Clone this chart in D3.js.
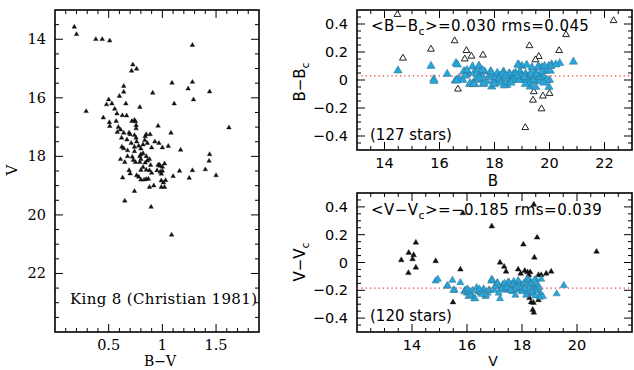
<!DOCTYPE html>
<html>
<head>
<meta charset="utf-8">
<script src="https://cdn.jsdelivr.net/npm/d3@7"></script>
<style>
  body { margin: 0; background: #fff; }
  svg { display: block; }
  .serif { font-family: "DejaVu Serif", "Liberation Serif", serif; }
  .sans { font-family: "DejaVu Sans", "Liberation Sans", sans-serif; }
</style>
</head>
<body>
<svg id="fig" width="634" height="370"></svg>
<script>
// colour-magnitude diagram: [B-V, V]
const cmdStars = [
  [0.18,13.58],[0.20,13.83],[0.38,14.0],[0.44,14.0],[0.51,14.05],[1.28,14.2],
  [0.725,14.87],[0.713,15.08],[0.76,15.01],[1.09,15.49],[1.28,15.46],[1.24,15.69],
  [1.44,15.79],[1.29,16.06],[1.11,16.2],[0.91,15.83],[0.64,15.6],[0.64,15.8],
  [0.60,15.94],[0.29,16.46],[0.50,16.06],[0.48,16.23],[0.53,16.2],[0.556,16.38],
  [0.66,16.2],[0.79,16.32],[0.45,16.68],[0.506,16.84],[0.51,16.97],[0.577,16.54],
  [0.57,16.8],[0.627,16.6],[0.667,16.61],[0.716,16.8],[0.75,16.81],[0.74,16.76],
  [0.756,16.94],[0.756,17.05],[0.59,17.0],[0.61,17.09],[0.58,17.17],[0.64,17.2],
  [0.62,17.37],[0.69,17.2],[0.70,17.25],[0.67,17.43],[0.74,17.28],[0.755,17.37],
  [0.71,17.55],[0.96,16.96],[1.08,17.2],[1.62,17.02],[0.85,17.25],[0.84,17.32],
  [0.886,17.25],[0.836,17.45],[0.86,17.55],[0.93,17.5],[0.968,17.55],[0.82,17.6],
  [0.74,17.68],[0.76,17.5],[0.623,17.68],[0.64,17.73],[0.676,17.8],[0.74,17.83],
  [0.78,17.64],[0.80,17.74],[0.90,17.7],[1.0,17.7],[1.055,17.65],[1.17,17.78],
  [0.61,18.1],[0.675,18.0],[0.65,18.2],[0.72,18.02],[0.73,18.13],[0.75,18.2],
  [0.80,17.93],[0.82,17.9],[0.79,18.0],[0.85,18.0],[0.80,18.1],[0.79,18.2],
  [0.84,18.22],[0.86,18.15],[0.88,18.1],[0.89,18.3],[0.82,18.37],[0.80,18.47],
  [0.85,18.46],[0.88,18.48],[0.90,18.57],[0.96,18.3],[0.97,18.28],[0.98,18.33],
  [1.0,18.36],[1.02,18.25],[0.95,18.48],[0.98,18.53],[1.0,18.5],[0.99,18.6],
  [0.69,18.48],[0.70,18.59],[0.63,18.73],[0.76,18.65],[0.78,18.7],[0.80,18.8],
  [0.83,18.8],[0.85,18.78],[0.87,18.77],[0.88,19.05],[0.92,19.0],[0.99,19.05],
  [0.99,18.83],[1.01,18.9],[1.03,18.82],[1.02,19.05],[1.10,18.68],[1.16,18.5],
  [1.25,18.74],[1.28,18.48],[1.40,18.45],[1.44,17.93],[1.435,18.16],[1.50,18.65],
  [0.74,19.19],[0.65,19.52],[0.895,19.73],[1.086,20.68]
];

// B residuals: [B, B-Bc]
const bKept = [
  [14.49,0.067],[15.69,0.10],[15.79,0.005],[15.80,-0.008],[16.28,0.043],[16.6,0.12],
  [16.65,0.11],[16.57,-0.005],[16.7,0.01],[16.92,0.06],[16.98,0.04],[17.04,0.05],
  [17.2,0.096],[17.22,-0.024],[17.28,0.06],[17.36,0.02],[17.44,0.096],[17.46,0.06],
  [17.5,0.0],[17.55,0.03],[17.58,-0.03],[17.64,0.06],[17.72,-0.01],[17.8,0.02],
  [17.86,0.06],[17.9,-0.048],[17.92,0.04],[17.98,0.0],[18.05,0.02],[18.1,0.05],
  [18.15,0.0],[18.2,0.03],[18.27,0.01],[18.33,0.06],[18.45,-0.036],[18.47,0.02],
  [18.53,0.045],[18.6,0.0],[18.65,0.03],[18.7,0.045],[18.76,0.01],[18.88,0.108],
  [18.93,0.06],[18.98,0.03],[19.0,0.1],[19.07,0.0],[19.13,0.045],[19.17,0.108],
  [19.2,0.02],[19.24,0.0],[19.3,-0.048],[19.3,0.045],[19.36,0.09],[19.4,0.01],
  [19.43,-0.01],[19.49,0.06],[19.55,0.02],[19.61,0.096],[19.65,-0.01],[19.7,0.045],
  [19.72,0.09],[19.78,0.02],[19.85,0.065],[19.97,0.1],[20.0,0.0],[20.03,0.065],
  [20.08,0.11],[20.37,0.12],[20.87,0.13],[16.85,0.0],[17.1,-0.03],[17.28,-0.03],
  [16.63,-0.005],[16.88,0.06],[16.94,0.03],[17.0,0.07],[17.12,-0.024],[17.25,-0.03],
  [17.34,0.045],[17.43,0.1],[17.45,0.01],[17.56,0.07],[17.62,-0.025],[17.87,0.06],
  [18.17,0.01],[18.3,0.045],[18.35,-0.04],[18.42,0.01],[18.55,0.045],[18.67,0.0],
  [18.77,0.05],[18.85,0.11],[18.9,0.0],[19.08,0.02],[19.27,-0.02],[19.33,0.045],
  [19.42,0.0],[19.5,-0.05],[19.57,0.09],[19.63,0.02],[19.73,0.06],[19.82,0.1],
  [19.9,0.0],[19.98,-0.05],[20.05,0.1],[20.23,0.11],[18.0,-0.03],[18.22,-0.02],
  [18.4,0.03],[18.6,-0.02],[18.82,0.03],[19.12,-0.03],[19.52,0.04],[19.8,-0.02]
];
const bRejected = [
  [14.47,0.468],[14.67,0.156],[15.69,0.22],[16.55,0.28],[16.98,0.21],[16.92,0.15],
  [17.16,0.17],[17.58,0.178],[16.67,-0.065],[19.27,0.245],[19.61,0.168],[19.49,0.144],
  [19.12,-0.34],[19.43,-0.084],[19.40,-0.144],[19.76,-0.115],[19.71,-0.206],[20.0,-0.096],
  [20.35,0.21],[20.6,0.324],[22.33,0.424]
];
const bMean = 0.030;

// V residuals: [V, V-Vc]
const vKept = [
  [14.86,-0.133],[14.94,-0.12],[15.27,-0.17],[15.47,-0.128],[15.55,-0.2],[15.76,-0.145],
  [15.93,-0.2],[16.0,-0.22],[16.05,-0.245],[16.1,-0.21],[16.17,-0.235],[16.26,-0.26],
  [16.35,-0.18],[16.4,-0.21],[16.5,-0.22],[16.63,-0.2],[16.67,-0.245],[16.75,-0.22],
  [16.82,-0.2],[16.88,-0.133],[16.9,-0.12],[17.0,-0.2],[17.05,-0.17],[17.1,-0.145],
  [17.2,-0.26],[17.25,-0.18],[17.3,-0.16],[17.35,-0.2],[17.4,-0.17],[17.48,-0.145],
  [17.53,-0.19],[17.6,-0.16],[17.65,-0.21],[17.7,-0.135],[17.77,-0.17],[17.83,-0.2],
  [17.9,-0.145],[17.95,-0.18],[18.0,-0.16],[18.07,-0.2],[18.13,-0.135],[18.2,-0.22],
  [18.25,-0.17],[18.3,-0.135],[18.38,-0.19],[18.43,-0.16],[18.5,-0.12],[18.52,-0.2],
  [18.57,-0.17],[18.67,-0.22],[18.76,-0.245],[19.26,-0.225],[19.52,-0.165],
  [15.3,-0.167],[15.5,-0.2],[15.9,-0.21],[15.95,-0.2],[16.07,-0.21],[16.12,-0.235],
  [16.3,-0.26],[16.48,-0.21],[16.6,-0.19],[16.69,-0.235],[16.79,-0.2],[16.93,-0.13],
  [17.02,-0.17],[17.12,-0.15],[17.26,-0.19],[17.36,-0.15],[17.44,-0.18],[17.52,-0.14],
  [17.62,-0.2],[17.68,-0.16],[17.76,-0.235],[17.86,-0.13],[17.92,-0.175],[18.0,-0.21],
  [18.07,-0.15],[18.15,-0.235],[18.21,-0.12],[18.27,-0.18],[18.33,-0.15],[18.4,-0.225],
  [18.45,-0.127],[18.52,-0.2],[18.57,-0.16],[18.64,-0.25],[18.7,-0.12],[16.02,-0.19],
  [16.2,-0.2],[16.55,-0.23],[17.15,-0.22],[17.58,-0.2],[18.1,-0.19],[18.35,-0.21],
  [18.62,-0.18],[16.45,-0.19],[17.8,-0.18],[18.48,-0.24]
];
const vRejected = [
  [13.61,0.017],[13.87,-0.075],[13.88,0.07],[14.02,0.024],[14.06,0.053],[14.14,0.143],
  [14.14,-0.036],[14.86,0.01],[15.49,-0.286],[15.76,-0.05],[15.85,0.355],[16.9,0.26],
  [17.2,0.0],[17.35,-0.03],[17.42,-0.065],[17.86,-0.05],[17.95,-0.08],[18.05,0.13],
  [18.1,-0.06],[18.2,-0.07],[18.25,-0.09],[18.3,-0.07],[18.45,0.036],[18.55,0.18],
  [18.43,0.417],[18.6,-0.09],[18.7,-0.09],[18.88,-0.08],[19.06,-0.065],[18.27,-0.255],
  [18.33,-0.286],[18.42,-0.29],[18.39,-0.34],[18.43,-0.36],[18.6,-0.27],[20.71,0.078]
];
const vMean = -0.185;

const cyan = '#25a6dc';
const svg = d3.select('#fig');

function fmt(v) {
  const s = (Math.round(v * 100) / 100).toString();
  return s.replace('-', '\u2212');
}

function drawPanel(cfg) {
  const x = d3.scaleLinear().domain(cfg.xDomain).range([cfg.x0, cfg.x1]);
  const y = d3.scaleLinear().domain(cfg.yDomain).range([cfg.y1, cfg.y0]);
  const g = svg.append('g');
  const minorX = d3.range(Math.ceil(cfg.xDomain[0] / cfg.xMinor - 1e-6) * cfg.xMinor, cfg.xDomain[1] + 1e-6, cfg.xMinor);
  const minorY = d3.range(Math.ceil(Math.min(...cfg.yDomain) / cfg.yMinor - 1e-6) * cfg.yMinor, Math.max(...cfg.yDomain) + 1e-6, cfg.yMinor);
  const isMajor = (v, step) => Math.abs(v / step - Math.round(v / step)) < 1e-6;

  const ticks = g.append('g').attr('stroke', '#000').attr('stroke-width', 1);
  minorX.forEach(v => {
    const len = isMajor(v, cfg.xMajor) ? 8 : 4;
    const px = x(v);
    if (px <= cfg.x0 + 0.5 || px >= cfg.x1 - 0.5) return;
    ticks.append('line').attr('x1', px).attr('x2', px).attr('y1', cfg.y1).attr('y2', cfg.y1 - len);
    ticks.append('line').attr('x1', px).attr('x2', px).attr('y1', cfg.y0).attr('y2', cfg.y0 + len);
  });
  minorY.forEach(v => {
    const len = isMajor(v, cfg.yMajor) ? 8 : 4;
    const py = y(v);
    if (py <= cfg.y0 + 0.5 || py >= cfg.y1 - 0.5) return;
    ticks.append('line').attr('y1', py).attr('y2', py).attr('x1', cfg.x0).attr('x2', cfg.x0 + len);
    ticks.append('line').attr('y1', py).attr('y2', py).attr('x1', cfg.x1).attr('x2', cfg.x1 - len);
  });

  g.append('rect')
    .attr('x', cfg.x0).attr('y', cfg.y0)
    .attr('width', cfg.x1 - cfg.x0).attr('height', cfg.y1 - cfg.y0)
    .attr('fill', 'none').attr('stroke', '#000').attr('stroke-width', 1.6);

  g.append('g').attr('class', cfg.font)
    .selectAll('text').data(cfg.xLabels).enter().append('text')
    .attr('x', d => x(d)).attr('y', cfg.y1 + 18)
    .attr('text-anchor', 'middle').attr('font-size', 14.5)
    .text(fmt);
  g.append('g').attr('class', cfg.font)
    .selectAll('text').data(cfg.yLabels).enter().append('text')
    .attr('x', cfg.x0 - 9).attr('y', d => y(d) + 5)
    .attr('text-anchor', 'end').attr('font-size', 14.5)
    .text(fmt);
  return { x, y, g };
}

function triangles(p, data, size, fill, stroke, sw) {
  p.g.append('g').selectAll('path').data(data).enter().append('path')
    .attr('transform', d => `translate(${p.x(d[0])},${p.y(d[1])})`)
    .attr('d', d3.symbol().type(d3.symbolTriangle).size(size))
    .attr('fill', fill).attr('stroke', stroke).attr('stroke-width', sw);
}

function meanLine(p, v) {
  p.g.append('line')
    .attr('x1', p.x.range()[0]).attr('x2', p.x.range()[1])
    .attr('y1', p.y(v)).attr('y2', p.y(v))
    .attr('stroke', '#e8403a').attr('stroke-width', 1.2)
    .attr('stroke-dasharray', '1.3,3');
}

// left: CMD
const cmd = drawPanel({
  x0: 55, x1: 259, y0: 10, y1: 332, xDomain: [0, 1.9], yDomain: [24, 13],
  xMajor: 0.5, xMinor: 0.1, yMajor: 2, yMinor: 0.5,
  xLabels: [0.5, 1, 1.5], yLabels: [14, 16, 18, 20, 22], font: 'serif'
});
triangles(cmd, cmdStars, 9, '#111', '#111', 0.4);
svg.append('text').attr('class', 'serif').attr('x', 70).attr('y', 304)
  .attr('font-size', 15).attr('textLength', 187).text('King 8 (Christian 1981)');
svg.append('text').attr('class', 'serif').attr('x', 160).attr('y', 366)
  .attr('text-anchor', 'middle').attr('font-size', 14).text('B\u2212V');
svg.append('text').attr('class', 'serif').attr('transform', 'translate(17,170) rotate(-90)')
  .attr('text-anchor', 'middle').attr('font-size', 15).text('V');

// top right: B residuals
const pb = drawPanel({
  x0: 357, x1: 632, y0: 10, y1: 150, xDomain: [13, 23], yDomain: [-0.5, 0.5],
  xMajor: 2, xMinor: 0.5, yMajor: 0.2, yMinor: 0.05,
  xLabels: [14, 16, 18, 20, 22], yLabels: [0.4, 0.2, 0, -0.2, -0.4], font: 'sans'
});
meanLine(pb, bMean);
triangles(pb, bRejected, 20, '#fff', '#222', 1);
triangles(pb, bKept, 30, cyan, '#3a6f86', 0.5);
const tb = svg.append('text').attr('class', 'sans').attr('x', 371).attr('y', 31)
  .attr('font-size', 15).attr('letter-spacing', 0.45);
tb.append('tspan').text('<B\u2212B');
tb.append('tspan').attr('font-size', 11).attr('dy', 4).text('c');
tb.append('tspan').attr('dy', -4).text('>=0.030  rms=0.045');
svg.append('text').attr('class', 'sans').attr('x', 370).attr('y', 140).attr('font-size', 15).text('(127 stars)');
svg.append('text').attr('class', 'sans').attr('x', 493).attr('y', 186)
  .attr('text-anchor', 'middle').attr('font-size', 15).text('B');
const lb = svg.append('text').attr('class', 'sans').attr('transform', 'translate(305,82) rotate(-90)')
  .attr('text-anchor', 'middle').attr('font-size', 15);
lb.append('tspan').text('B\u2212B');
lb.append('tspan').attr('font-size', 11).attr('dy', 4).text('c');

// bottom right: V residuals
const pv = drawPanel({
  x0: 357, x1: 632, y0: 193, y1: 332, xDomain: [12, 22], yDomain: [-0.5, 0.5],
  xMajor: 2, xMinor: 0.5, yMajor: 0.2, yMinor: 0.05,
  xLabels: [14, 16, 18, 20], yLabels: [0.4, 0.2, 0, -0.2, -0.4], font: 'sans'
});
meanLine(pv, vMean);
triangles(pv, vRejected, 14, '#111', '#111', 0.4);
triangles(pv, vKept, 22, cyan, '#3a6f86', 0.5);
const tv = svg.append('text').attr('class', 'sans').attr('x', 371).attr('y', 215)
  .attr('font-size', 15).attr('letter-spacing', 0.45);
tv.append('tspan').text('<V\u2212V');
tv.append('tspan').attr('font-size', 11).attr('dy', 4).text('c');
tv.append('tspan').attr('dy', -4).text('>=\u22120.185  rms=0.039');
svg.append('text').attr('class', 'sans').attr('x', 370).attr('y', 321).attr('font-size', 15).text('(120 stars)');
svg.append('text').attr('class', 'sans').attr('x', 493).attr('y', 366)
  .attr('text-anchor', 'middle').attr('font-size', 14).text('V');
const lv = svg.append('text').attr('class', 'sans').attr('transform', 'translate(305,262) rotate(-90)')
  .attr('text-anchor', 'middle').attr('font-size', 15);
lv.append('tspan').text('V\u2212V');
lv.append('tspan').attr('font-size', 11).attr('dy', 4).text('c');
</script>
</body>
</html>
